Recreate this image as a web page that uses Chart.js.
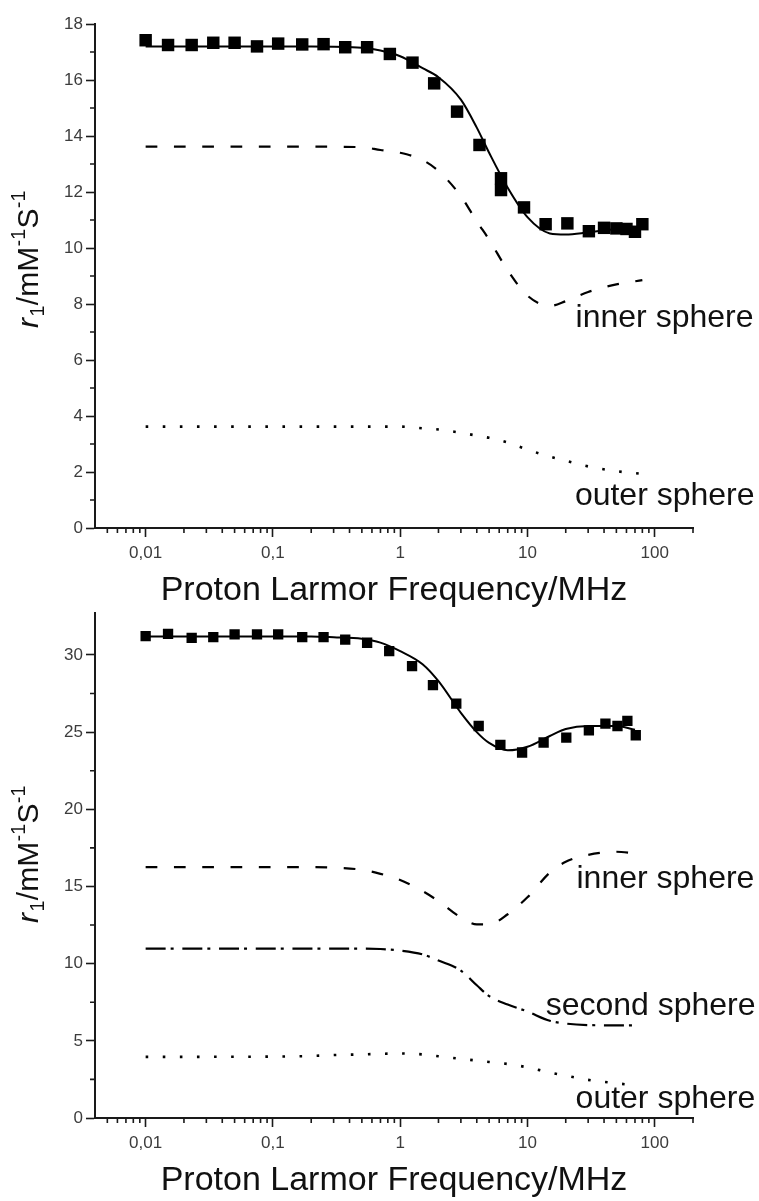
<!DOCTYPE html>
<html><head><meta charset="utf-8">
<script src="https://cdn.jsdelivr.net/npm/chart.js@4.4.1/dist/chart.umd.min.js"></script>
<style>
html,body{margin:0;padding:0;background:#fff;}
body{width:759px;height:1201px;position:relative;overflow:hidden;}
.wrap{position:absolute;left:0;width:759px;}
#w1{top:0;height:615px;}
#w2{top:606px;height:595px;}
canvas{display:block;}
</style></head><body>
<div class="wrap" id="w1"><canvas id="c1" width="759" height="615"></canvas></div>
<div class="wrap" id="w2"><canvas id="c2" width="759" height="595"></canvas></div>
<script>
const FONT = '"Liberation Sans", Arial, Helvetica, sans-serif';

// ---- axis ticks ----
const xTickValues = [0.01, 0.1, 1, 10, 100];
const xTickLabels = ['0,01', '0,1', '1', '10', '100'];
const xMinorTicks = [0.005,0.006,0.007,0.008,0.009,
  0.02,0.03,0.04,0.05,0.06,0.07,0.08,0.09,
  0.2,0.3,0.4,0.5,0.6,0.7,0.8,0.9,
  2,3,4,5,6,7,8,9,
  20,30,40,50,60,70,80,90,200];
const topYTicks = [0,2,4,6,8,10,12,14,16,18];
const topYMinor = [1,3,5,7,9,11,13,15,17];
const botYTicks = [0,5,10,15,20,25,30];
const botYMinor = [2.5,7.5,12.5,17.5,22.5,27.5];

// ---- top panel: measured r1 ----
const topFreqMeasured = [0.01,0.015,0.023,0.034,0.05,0.075,0.11,0.17,0.25,0.37,0.55,0.83,1.25,1.85,2.8,4.2,6.2,6.2,9.4,13.9,20.6,30.4,40,50,60,70,80];
const topR1Measured   = [17.42,17.25,17.25,17.33,17.33,17.2,17.3,17.27,17.28,17.17,17.17,16.93,16.62,15.88,14.87,13.68,12.49,12.07,11.45,10.85,10.88,10.6,10.72,10.7,10.68,10.58,10.85];
// ---- top panel: fitted curves ----
const topFreqCurve = [0.01,0.02,0.05,0.1,0.2,0.5,0.7,1,1.5,2,3,4,5,7,10,15,20,30,50,80];
const topFit   = [17.2,17.2,17.2,17.2,17.2,17.15,17.05,16.85,16.42,16.1,15.3,14.3,13.4,12.15,11.1,10.52,10.48,10.56,10.68,10.76];
const topInner = [13.62,13.62,13.62,13.62,13.62,13.6,13.5,13.4,13.14,12.75,11.85,10.95,10.3,9.2,8.3,7.93,8.1,8.43,8.7,8.85];
const topOuter = [3.62,3.62,3.62,3.62,3.62,3.62,3.62,3.62,3.56,3.52,3.4,3.3,3.22,3.05,2.8,2.55,2.4,2.2,2.03,1.93];

// ---- bottom panel: measured r1 ----
const botFreqMeasured = [0.01,0.015,0.023,0.034,0.05,0.075,0.11,0.17,0.25,0.37,0.55,0.82,1.24,1.81,2.76,4.14,6.13,9.08,13.4,20.2,30.4,41,51,61,71];
const botR1Measured   = [31.22,31.37,31.11,31.16,31.33,31.33,31.33,31.16,31.16,31.0,30.79,30.25,29.28,28.05,26.85,25.4,24.18,23.68,24.33,24.65,25.12,25.55,25.4,25.73,24.8];
// ---- bottom panel: fitted curves ----
const botFreqCurve = [0.01,0.02,0.05,0.1,0.2,0.3,0.5,0.7,1,1.5,2,3,4,5,7,10,15,20,30,50,70];
const botFit    = [31.2,31.2,31.2,31.2,31.2,31.15,31.05,30.8,30.25,29.4,28.3,26.25,25.0,24.3,23.82,24.05,24.75,25.2,25.4,25.4,25.15];
const botInner  = [16.25,16.25,16.25,16.25,16.25,16.22,16.08,15.82,15.42,14.7,14.05,13.0,12.55,12.55,13.2,14.3,15.9,16.6,17.05,17.25,17.15];
const botSecond = [10.97,10.97,10.97,10.97,10.97,10.97,10.97,10.95,10.85,10.6,10.2,9.55,8.6,7.9,7.35,6.9,6.3,6.12,6.02,6.0,6.0];
const botOuter  = [3.96,3.96,3.97,3.98,4.02,4.08,4.12,4.16,4.18,4.12,4.0,3.83,3.72,3.63,3.5,3.28,2.95,2.75,2.47,2.25,2.12];

// ---- texts ----
const xTitle = 'Proton Larmor Frequency/MHz';
const yTitlePieces = [
  {text:'r', italic:true},
  {text:'1', script:'sub'},
  {text:'/mM'},
  {text:'-1', script:'sup'},
  {text:'S'},
  {text:'-1', script:'sup'}
];

const pts = (xs, ys) => xs.map((x, i) => ({x, y: ys[i]}));

const extrasPlugin = {
  id: 'extras',
  afterDraw(chart, args, o) {
    const ctx = chart.ctx, xs = chart.scales.x, ys = chart.scales.y, ca = chart.chartArea;
    ctx.save();
    // minor ticks
    ctx.strokeStyle = '#1a1a1a'; ctx.lineWidth = 1.6;
    ctx.beginPath();
    o.xMinor.forEach(v => { const px = xs.getPixelForValue(v); ctx.moveTo(px, ca.bottom); ctx.lineTo(px, ca.bottom + o.minorLen); });
    o.yMinor.forEach(v => { const py = ys.getPixelForValue(v); ctx.moveTo(ca.left - o.minorLen, py); ctx.lineTo(ca.left, py); });
    ctx.stroke();
    // curve labels
    ctx.fillStyle = '#111';
    ctx.font = o.labelSize + 'px ' + FONT;
    ctx.textAlign = 'left'; ctx.textBaseline = 'alphabetic';
    o.labels.forEach(l => ctx.fillText(l.text, xs.getPixelForValue(l.x), ys.getPixelForValue(l.y)));
    // y-axis title
    const size = o.yTitleSize;
    ctx.translate(ca.left - o.yTitleOffsetX, ca.bottom - o.yTitleStartFromBottom);
    ctx.rotate(-Math.PI / 2);
    let cx = 0;
    yTitlePieces.forEach(p => {
      const fs = p.script ? size * 0.65 : size;
      ctx.font = (p.italic ? 'italic ' : '') + fs + 'px ' + FONT;
      const dy = p.script === 'sub' ? size * 0.2 : (p.script === 'sup' ? -size * 0.42 : 0);
      ctx.fillText(p.text, cx, dy);
      cx += ctx.measureText(p.text).width + (p.italic ? 1.5 : 0.5);
    });
    ctx.restore();
  }
};

function makeChart(id, c) {
  const axisColor = '#1a1a1a';
  const tickFont = {family: FONT, size: 17};
  const datasets = [
    {type:'line', data: pts(c.measF, c.measV), showLine:false, pointStyle:'rect',
     pointRadius:c.pointR, pointHoverRadius:c.pointR, backgroundColor:'#000', borderColor:'#000', borderWidth:0, order:2},
    {type:'line', data: pts(c.curveF, c.fit), borderColor:'#000', borderWidth:2, pointRadius:0,
     cubicInterpolationMode:'monotone', fill:false, order:1},
    {type:'line', data: pts(c.curveF, c.inner), borderColor:'#000', borderWidth:2.2, borderDash:[11.7,16.6],
     pointRadius:0, cubicInterpolationMode:'monotone', fill:false, order:1},
    {type:'line', data: pts(c.curveF, c.outer), borderColor:'#000', borderWidth:2.6, borderDash:[2.6,14.5],
     pointRadius:0, cubicInterpolationMode:'monotone', fill:false, order:1}
  ];
  if (c.second) datasets.push({type:'line', data: pts(c.curveF, c.second), borderColor:'#000', borderWidth:2.2,
     borderDash:[20,5,3,8.7], pointRadius:0, cubicInterpolationMode:'monotone', fill:false, order:1});
  return new Chart(document.getElementById(id), {
    type: 'line',
    data: {datasets},
    options: {
      responsive:false, animation:false, events:[],
      layout: {padding: {left:0, right:66, top:c.top, bottom:0}},
      plugins: {
        legend:{display:false}, tooltip:{enabled:false},
        extras: {xMinor:xMinorTicks, yMinor:c.yMinor, minorLen:5, labels:c.labels, labelSize:32,
                 yTitleSize:30, yTitleOffsetX:57, yTitleStartFromBottom:c.yTitleStart}
      },
      scales: {
        x: {
          type:'logarithmic', min:0.004, max:200,
          afterBuildTicks: s => { s.ticks = xTickValues.map(v => ({value:v})); },
          afterFit: s => { s.height = c.xAxisH; s.paddingLeft = 0; s.paddingRight = 0; },
          ticks: {callback:(v, i) => xTickLabels[i], font:tickFont, color:'#3c3c3c', padding:6, maxRotation:0, autoSkip:false},
          grid: {drawOnChartArea:false, drawTicks:true, tickLength:9, tickWidth:1.6, tickColor:axisColor},
          border: {display:true, color:axisColor, width:2},
          title: {display:true, text:xTitle, font:{family:FONT, size:34}, color:'#111', padding:{top:0, bottom:c.titlePad}}
        },
        y: {
          type:'linear', min:0, max:c.yMax,
          afterBuildTicks: s => { s.ticks = c.yTicks.map(v => ({value:v})); },
          afterFit: s => { s.width = 95; s.paddingTop = 0; s.paddingBottom = 0; },
          ticks: {callback: v => String(v), font:tickFont, color:'#3c3c3c', padding:3},
          grid: {drawOnChartArea:false, drawTicks:true, tickLength:9, tickWidth:1.6, tickColor:axisColor},
          border: {display:true, color:axisColor, width:2}
        }
      }
    },
    plugins: [extrasPlugin]
  });
}

makeChart('c1', {
  measF:topFreqMeasured, measV:topR1Measured, pointR:8.8,
  curveF:topFreqCurve, fit:topFit, inner:topInner, outer:topOuter,
  top:24, xAxisH:87, titlePad:4.4, yMax:18, yTicks:topYTicks, yMinor:topYMinor, yTitleStart:200,
  labels:[{text:'inner sphere', x:23.9, y:7.18}, {text:'outer sphere', x:23.6, y:0.82}]
});
makeChart('c2', {
  measF:botFreqMeasured, measV:botR1Measured, pointR:7.3,
  curveF:botFreqCurve, fit:botFit, inner:botInner, outer:botOuter, second:botSecond,
  top:7, xAxisH:83, titlePad:0.4, yMax:32.7, yTicks:botYTicks, yMinor:botYMinor, yTitleStart:195,
  labels:[{text:'inner sphere', x:24.3, y:14.87}, {text:'second sphere', x:13.9, y:6.66}, {text:'outer sphere', x:23.9, y:0.63}]
});
</script>
</body></html>
